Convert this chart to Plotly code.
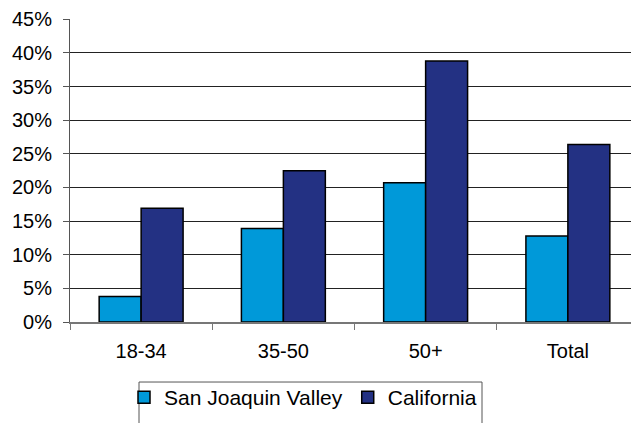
import plotly.graph_objects as go

# Age groups and share for each region
categories = ['18-34', '35-50', '50+', 'Total']
san_joaquin = [0.038, 0.139, 0.207, 0.128]
california = [0.169, 0.225, 0.388, 0.264]

fig = go.Figure()
fig.add_trace(go.Bar(x=categories, y=san_joaquin, name='San Joaquin Valley',
                     marker=dict(color='#0099D9', line=dict(color='black', width=1.5))))
fig.add_trace(go.Bar(x=categories, y=california, name='California',
                     marker=dict(color='#233183', line=dict(color='black', width=1.5))))

# helpers: page pixel -> paper coords (plot area spans x 70..639, y 17.3..321.7 on the page)
px_x = lambda X: (X - 70) / 569
px_y = lambda Y: (321.7 - Y) / 304.4

# legend frame, runs off the bottom edge like the original
fig.add_shape(type='rect', xref='paper', yref='paper',
              x0=px_x(139), x1=px_x(482), y0=px_y(440), y1=px_y(382),
              line=dict(color='#555555', width=1), fillcolor='rgba(0,0,0,0)')

# page body has an 8px margin, so the figure is 8px smaller than the window
fig.update_layout(
    width=631, height=415,
    margin=dict(l=62, r=0, t=9, b=101),
    paper_bgcolor='white', plot_bgcolor='white',
    font=dict(family='Liberation Sans, Arial, sans-serif', size=20, color='black'),
    barmode='group', bargap=0.41, bargroupgap=0,
    showlegend=True,
    legend=dict(orientation='h', x=px_x(124), xanchor='left',
                y=px_y(377), yanchor='top',
                bgcolor='rgba(0,0,0,0)', borderwidth=0,
                font=dict(size=21), itemwidth=30, tracegroupgap=0),
)
fig.update_yaxes(range=[0, 0.4505], dtick=0.05, tickformat='.0%',
                 showgrid=True, gridcolor='#222222', gridwidth=1,
                 showline=True, linecolor='#555555', linewidth=1,
                 ticks='outside', ticklen=6, tickcolor='#555555',
                 ticklabelstandoff=7, ticklabeloverflow='allow', zeroline=False)
fig.update_xaxes(tickson='boundaries', ticks='outside', ticklen=6, tickcolor='#777777',
                 showline=True, linecolor='#777777', linewidth=2, showgrid=False,
                 ticklabelstandoff=10)

fig.write_html('out.html')
